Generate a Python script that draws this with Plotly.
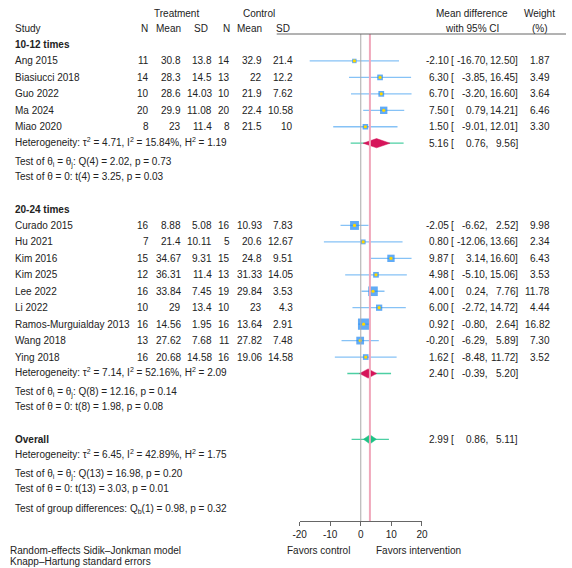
import math
import plotly.graph_objects as go

W, H = 572, 568
FONT = "Liberation Sans"
FS = 10
TXT = "#222222"

# ---------------- data ----------------
groups = ["10-12 times", "20-24 times"]

g1_study = ["Ang 2015", "Biasiucci 2018", "Guo 2022", "Ma 2024", "Miao 2020"]
g1_n_t = [11, 14, 10, 20, 8]
g1_mean_t = [30.8, 28.3, 28.6, 29.9, 23]
g1_sd_t = [13.8, 14.5, 14.03, 11.08, 11.4]
g1_n_c = [14, 13, 10, 20, 8]
g1_mean_c = [32.9, 22, 21.9, 22.4, 21.5]
g1_sd_c = [21.4, 12.2, 7.62, 10.58, 10]
g1_md = [-2.10, 6.30, 6.70, 7.50, 1.50]
g1_lo = [-16.70, -3.85, -3.20, 0.79, -9.01]
g1_hi = [12.50, 16.45, 16.60, 14.21, 12.01]
g1_w = [1.87, 3.49, 3.64, 6.46, 3.30]

g2_study = ["Curado 2015", "Hu 2021", "Kim 2016", "Kim 2025", "Lee 2022", "Li 2022",
            "Ramos-Murguialday 2013", "Wang 2018", "Ying 2018"]
g2_n_t = [16, 7, 15, 12, 16, 10, 16, 13, 16]
g2_mean_t = [8.88, 21.4, 34.67, 36.31, 33.84, 29, 14.56, 27.62, 20.68]
g2_sd_t = [5.08, 10.11, 9.31, 11.4, 7.45, 13.4, 1.95, 7.68, 14.58]
g2_n_c = [16, 5, 15, 13, 19, 10, 16, 11, 16]
g2_mean_c = [10.93, 20.6, 24.8, 31.33, 29.84, 23, 13.64, 27.82, 19.06]
g2_sd_c = [7.83, 12.67, 9.51, 14.05, 3.53, 4.3, 2.91, 7.48, 14.58]
g2_md = [-2.05, 0.80, 9.87, 4.98, 4.00, 6.00, 0.92, -0.20, 1.62]
g2_lo = [-6.62, -12.06, 3.14, -5.10, 0.24, -2.72, -0.80, -6.29, -8.48]
g2_hi = [2.52, 13.66, 16.60, 15.06, 7.76, 14.72, 2.64, 5.89, 11.72]
g2_w = [9.98, 2.34, 6.43, 3.53, 11.78, 4.44, 16.82, 7.30, 3.52]

# summaries: group1, group2, overall
sum_label = ["10-12 times", "20-24 times", "Overall"]
sum_md = [5.16, 2.40, 2.99]
sum_lo = [0.76, -0.39, 0.86]
sum_hi = [9.56, 5.20, 5.11]
sum_pi_lo = [-3.3, -4.4, -3.0]
sum_pi_hi = [14.0, 9.9, 9.2]
het_tau2 = ["4.71", "7.14", "6.45"]
het_i2 = ["15.84", "52.16", "42.89"]
het_h2 = ["1.19", "2.09", "1.75"]
q_df = [4, 8, 13]
q_val = ["2.02", "12.16", "16.98"]
q_p = ["0.73", "0.14", "0.20"]
t_df = [4, 8, 13]
t_val = ["3.25", "1.98", "3.03"]
t_p = ["0.03", "0.08", "0.01"]
qb_df = 1
qb_val = "0.98"
qb_p = "0.32"

x_ticks = [-20, -10, 0, 10, 20]

# ---------------- layout helpers ----------------
def ry(i):
    return 44.5 + 16.45 * i

PX0 = 362.0      # pixel of zero
PPU = 3.13       # pixels per unit
XMIN, XMAX = -20, 20

ann = []
def text(x, y, s, anchor="left", bold=False, size=FS, dy=0.0):
    if bold:
        s = "<b>" + s + "</b>"
    ann.append(dict(x=x / W, y=y + dy, xref="paper", yref="y", text=s, showarrow=False,
                    xanchor=anchor, yanchor="middle", borderpad=0, borderwidth=0,
                    font=dict(family=FONT, size=size, color=TXT)))

def fmt(v):
    return f"{v:g}"

LX = 8.5
SUP_DY = -1.5
SUB_DY = 2.5

# headers
text(173, 13, "Treatment", "center")
text(258, 13, "Control", "center")
text(476, 13, "Mean difference", "center")
text(545, 13, "Weight", "center")
text(LX, 28, "Study")
for xr, s in zip([144, 178, 206, 228, 261, 290], ["N", "Mean", "SD", "N", "Mean", "SD"]):
    text(xr, 28, s, "right")
text(476, 28, "with 95% CI", "center")
text(545, 28, "(%)", "center")

COLS = [145, 178, 210, 228, 261, 293]

def ci_text(y, md, lo, hi):
    text(452, y, f"{md:.2f}", "right")
    text(454, y, "[", "left")
    text(492, y, f"{lo:.2f},", "right")
    text(523, y, f"{hi:.2f}]", "right")

group_data = [
    (g1_study, g1_n_t, g1_mean_t, g1_sd_t, g1_n_c, g1_mean_c, g1_sd_c, g1_md, g1_lo, g1_hi, g1_w),
    (g2_study, g2_n_t, g2_mean_t, g2_sd_t, g2_n_c, g2_mean_c, g2_sd_c, g2_md, g2_lo, g2_hi, g2_w),
]

fig = go.Figure()

# vertical reference lines
fig.add_shape(type="line", xref="x2", yref="y", x0=0, x1=0, y0=34, y1=521,
              line=dict(color="#A9A9A9", width=1))
fig.add_shape(type="line", xref="x2", yref="y", x0=sum_md[2], x1=sum_md[2], y0=34, y1=521,
              line=dict(color="#F0A7BB", width=2))
# header rule
fig.add_shape(type="line", xref="paper", yref="y", x0=276 / W, x1=1, y0=34, y1=34,
              line=dict(color="#666666", width=1))

def het_str(k):
    return (f"Heterogeneity: τ<sup>2</sup> = {het_tau2[k]}, I<sup>2</sup> = {het_i2[k]}%, "
            f"H<sup>2</sup> = {het_h2[k]}")

def q_str(k):
    return f"Test of θ<sub>i</sub> = θ<sub>j</sub>: Q({q_df[k]}) = {q_val[k]}, p = {q_p[k]}"

def t_str(k):
    return f"Test of θ = 0: t({t_df[k]}) = {t_val[k]}, p = {t_p[k]}"

row = 0
sum_rows = []
for gi, gd in enumerate(group_data):
    study, nt, mt, st, nc, mc, sc, md, lo, hi, w = gd
    text(LX, ry(row), groups[gi], bold=True)
    row += 1
    ys = []
    for k in range(len(study)):
        y = ry(row)
        ys.append(y)
        text(LX, y, study[k])
        for xr, v in zip(COLS, [nt[k], mt[k], st[k], nc[k], mc[k], sc[k]]):
            text(xr, y, fmt(v), "right")
        ci_text(y, md[k], lo[k], hi[k])
        text(556, y, f"{w[k]:.2f}", "right")
        row += 1
    # study markers with CIs
    fig.add_trace(go.Scatter(
        x=md, y=ys, mode="markers", xaxis="x2", yaxis="y", showlegend=False,
        marker=dict(symbol="square", size=[2.5 * math.sqrt(v) + 1 for v in w],
                    color="#1E88F2", line=dict(width=0)),
        error_x=dict(type="data", symmetric=False,
                     array=[h - m for h, m in zip(hi, md)],
                     arrayminus=[m - l for m, l in zip(md, lo)],
                     color="#86C2F6", thickness=1.3, width=0),
        cliponaxis=False, hoverinfo="skip"))
    fig.add_trace(go.Scatter(
        x=md, y=ys, mode="markers", xaxis="x2", yaxis="y", showlegend=False,
        marker=dict(symbol="circle", size=3.2, color="#FFD700", line=dict(width=0)),
        cliponaxis=False, hoverinfo="skip"))
    # heterogeneity rows
    sum_rows.append(ry(row))
    text(LX, ry(row), het_str(gi), dy=SUP_DY)
    ci_text(ry(row), sum_md[gi], sum_lo[gi], sum_hi[gi])
    row += 1
    text(LX, ry(row), q_str(gi), dy=SUB_DY)
    row += 1
    text(LX, ry(row), t_str(gi))
    row += 2

# overall
text(LX, ry(row), "Overall", bold=True)
sum_rows.append(ry(row))
ci_text(ry(row), sum_md[2], sum_lo[2], sum_hi[2])
row += 1
text(LX, ry(row), het_str(2), dy=SUP_DY)
row += 1
text(LX, ry(row), q_str(2), dy=SUB_DY)
row += 1
text(LX, ry(row), t_str(2))
text(LX, 506, f"Test of group differences: Q<sub>b</sub>({qb_df}) = {qb_val}, p = {qb_p}", dy=SUB_DY)

text(3, 550, "Random-effects Sidik–Jonkman model")
text(3, 561, "Knapp–Hartung standard errors")

# favors labels
ann.append(dict(x=0, y=550, xref="x2", yref="y", text="Favors control", showarrow=False,
                xanchor="right", yanchor="middle", xshift=-11, borderpad=0, borderwidth=0,
                font=dict(family=FONT, size=FS, color=TXT)))
ann.append(dict(x=0, y=550, xref="x2", yref="y", text="Favors intervention", showarrow=False,
                xanchor="left", yanchor="middle", xshift=15, borderpad=0, borderwidth=0,
                font=dict(family=FONT, size=FS, color=TXT)))

# summary diamonds with prediction intervals
dh = 4.6
diamond_colors = ["#D6145A", "#D6145A", "#1DC285"]
for k in range(3):
    y = sum_rows[k]
    fig.add_trace(go.Scatter(
        x=[sum_pi_lo[k], sum_pi_hi[k]], y=[y, y], mode="lines", xaxis="x2", yaxis="y",
        line=dict(color="#4CCFA3", width=1.3), showlegend=False, hoverinfo="skip",
        cliponaxis=False))
    fig.add_trace(go.Scatter(
        x=[sum_lo[k], sum_md[k], sum_hi[k], sum_md[k], sum_lo[k]],
        y=[y, y - dh, y, y + dh, y], mode="lines", fill="toself",
        fillcolor=diamond_colors[k], line=dict(color=diamond_colors[k], width=0.5),
        xaxis="x2", yaxis="y", showlegend=False, hoverinfo="skip", cliponaxis=False))

x_lo_px = PX0 + PPU * XMIN
x_hi_px = PX0 + PPU * XMAX

fig.update_layout(
    width=W, height=H,
    margin=dict(l=0, r=0, t=0, b=0),
    paper_bgcolor="white", plot_bgcolor="rgba(0,0,0,0)",
    showlegend=False,
    annotations=ann,
    xaxis=dict(visible=False, range=[0, W], domain=[0, 1]),
    xaxis2=dict(domain=[x_lo_px / W, x_hi_px / W], range=[XMIN, XMAX],
                anchor="free", position=1 - 521 / H,
                showline=True, linecolor="#666666", linewidth=1,
                ticks="outside", ticklen=4, tickcolor="#666666",
                tickvals=x_ticks, ticktext=[str(v) for v in x_ticks],
                tickfont=dict(family=FONT, size=FS, color=TXT),
                showgrid=False, zeroline=False, fixedrange=True),
    yaxis=dict(visible=False, range=[H, 0], domain=[0, 1], fixedrange=True,
               showgrid=False, zeroline=False),
)

fig.write_html("out.html")
